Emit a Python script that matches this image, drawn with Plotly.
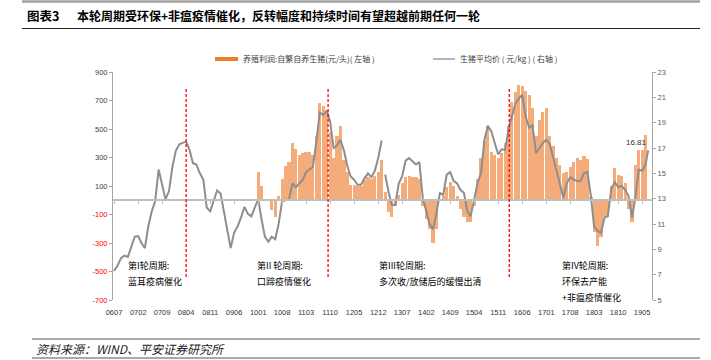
import pandas as pd
import plotly.graph_objects as go

# ---------------- data ----------------
start_month = "2006-07-01"

# 生猪平均价 (元/kg), monthly from 2006-07 to 2019-06
price = [
    7.3, 7.7, 8.3, 8.5, 8.4, 9.2, 10.0, 10.05, 9.5, 9.1,
    10.8, 12.0, 12.8, 15.3, 14.0, 12.95, 13.6, 15.5, 16.8, 17.3,
    17.4, 17.5, 16.85, 15.8, 15.7, 15.0, 14.5, 12.3, 12.0, 12.8,
    13.65, 13.4, 12.1, 10.8, 9.1, 10.3, 10.8, 11.5, 12.35, 11.8,
    11.6, 12.3, 12.95, 11.3, 10.0, 9.6, 10.0, 9.8, 11.0, 12.8,
    12.9, 12.95, 14.2, 13.9, 14.2, 14.5, 15.1, 15.3, 15.5, 17.5,
    19.8, 19.6, 19.95, 19.1, 17.0, 17.2, 17.65, 16.8, 15.6, 14.75,
    14.5, 14.1, 14.1, 14.6, 15.0, 14.7, 15.2, 16.2, 17.6, 14.9,
    13.6, 12.5, 12.5, 14.2, 14.75, 16.0, 16.2, 15.95, 15.7, 15.9,
    13.0, 12.0, 11.0, 10.6, 11.8, 13.45, 13.3, 14.9, 15.1, 14.4,
    14.2, 13.7, 13.45, 12.0, 11.6, 12.9, 14.2, 15.0, 17.6, 18.75,
    18.3, 17.4, 16.5, 16.9, 16.85, 18.5, 19.5, 20.5, 20.9, 21.2,
    19.5, 18.6, 18.8, 16.6, 17.0, 17.4, 17.65, 17.3, 16.3, 15.3,
    14.2, 13.05, 14.2, 14.7, 14.5, 14.4, 14.4, 15.0, 15.1, 13.2,
    10.8, 10.45, 10.3, 11.5, 11.6, 13.8, 14.3, 13.9, 14.0, 13.7,
    13.2, 11.5, 13.0, 15.3, 15.2, 15.7,
]
price_gap_date = "2013-01-16"      # missing observation (line break)
last_date = "2019-06-24"
last_price = 16.81

# 养殖利润: 自繁自养生猪 (元/头), monthly from 2010-01 to 2019-06
profit_start = "2010-01-01"
profit = [
    200, 100, 0, 0, -70, -120, 30, 150,
    240, 270, 400, 360, 320, 330, 340, 340, 320, 450,
    680, 660, 620, 480, 300, 450, 520, 280, 200, 110,
    110, 100, 100, 140, 160, 150, 170, 200, 285, 60,
    -80, -120, -40, 40, 120, 160, 170, 165, 160, 150,
    -40, -130, -200, -297, -200, 10, 30, 90, 130, 100,
    30, -60, -120, -150, -155, -40, 150, 300, 414, 520,
    340, 320, 300, 330, 400, 520, 690, 760, 810, 800,
    765, 740, 650, 450, 560, 620, 650, 450, 380, 300,
    250, 190, 200, 230, 270, 300, 280, 310, 290, 20,
    -220, -324, -260, -120, -110, 100, 226, 180, 170, 120,
    -60, -150, 250, 350, 350, 460,
]

x_tick_labels = ["0607", "0702", "0709", "0804", "0811", "0906", "1001", "1008",
                 "1103", "1110", "1205", "1212", "1307", "1402", "1409", "1504",
                 "1511", "1606", "1701", "1708", "1803", "1810", "1905"]
left_ticks = [-700, -500, -300, -100, 100, 300, 500, 700, 900]
right_ticks = [5, 7, 9, 11, 13, 15, 17, 19, 21, 23]

cycle_marks = ["2008-04-01", "2011-09-13", "2016-02-07"]
cycle_texts = [
    ["第I轮周期:", "蓝耳疫病催化"],
    ["第II 轮周期:", "口蹄疫情催化"],
    ["第III轮周期:", "多次收/放储后的缓慢出清"],
    ["第IV轮周期:", "环保去产能", "+非瘟疫情催化"],
]

title_tag = "图表3"
title_text = "本轮周期受环保+非瘟疫情催化，反转幅度和持续时间有望超越前期任何一轮"
source_text = "资料来源：WIND、平安证券研究所"
legend_bar = "养殖利润:自繁自养生猪(元/头)( 左轴 )"
legend_line = "生猪平均价 ( 元/kg ) ( 右轴 )"

# ---------------- build ----------------
months = pd.date_range(start_month, periods=len(price), freq="MS")
profit_dates = pd.date_range(profit_start, periods=len(profit), freq="MS")

px_dates = list(months) + [pd.Timestamp(price_gap_date), pd.Timestamp(last_date)]
px_vals = list(price) + [None, last_price]
order = sorted(range(len(px_dates)), key=lambda i: px_dates[i])
px_dates = [px_dates[i] for i in order]
px_vals = [px_vals[i] for i in order]

tick_dates = [pd.to_datetime("20" + s, format="%Y%m") for s in x_tick_labels]
x_range = ["2006-06-22", "2019-07-28"]

CJK = "Noto Sans CJK SC"
LAT = "Liberation Sans, Arial, sans-serif"

fig = go.Figure()
fig.add_trace(go.Bar(
    x=profit_dates, y=profit, name=legend_bar,
    marker=dict(color="#F4AC7A", line=dict(width=0)),
    showlegend=False, hoverinfo="skip",
))
fig.add_trace(go.Scatter(
    x=[tick_dates[0], tick_dates[-1]], y=[0, 0], xaxis="x2", yaxis="y",
    mode="lines", line=dict(width=0), opacity=0, showlegend=False, hoverinfo="skip",
))
fig.add_trace(go.Scatter(
    x=px_dates, y=px_vals, yaxis="y2", mode="lines", name=legend_line,
    line=dict(color="#8E8E8E", width=2), connectgaps=False,
    showlegend=False, hoverinfo="skip",
))

# plot-area geometry (pixels) used for paper-coordinate decorations
L, R, T, B = 113, 652, 72, 300
W, H = R - L, B - T
def pxx(x):
    return (x - L) / W
def pxy(y):
    return 1 - (y - T) / H

left_text = [f'<span style="color:#FF0000">{v}</span>' if v < 0 else str(v) for v in left_ticks]

fig.update_layout(
    width=711, height=360,
    margin=dict(l=L, r=711 - R, t=T, b=360 - B),
    paper_bgcolor="white", plot_bgcolor="white",
    bargap=0.0,
    font=dict(family=LAT, color="#404040"),
    xaxis=dict(type="date", range=x_range, tickvals=tick_dates, ticktext=x_tick_labels,
               showline=False, ticks="", showgrid=False, zeroline=False,
               ticklabelstandoff=6,
               tickfont=dict(size=7.5, color="#333333", family=LAT)),
    xaxis2=dict(type="date", range=x_range, overlaying="x", anchor="free",
                position=700 / 1600, tickvals=tick_dates, showticklabels=False,
                showline=True, linecolor="#BFBFBF", linewidth=1.5,
                ticks="outside", ticklen=3, tickcolor="#BFBFBF",
                showgrid=False, zeroline=False),
    yaxis=dict(range=[-700, 900], tickvals=left_ticks, ticktext=left_text,
               showline=True, linecolor="#A6A6A6", linewidth=1,
               ticks="outside", ticklen=3, tickcolor="#A6A6A6",
               showgrid=False, zeroline=False,
               tickfont=dict(size=7.5, color="#404040", family=LAT)),
    yaxis2=dict(range=[5, 23], tickvals=right_ticks, overlaying="y", side="right",
                showline=True, linecolor="#A6A6A6", linewidth=1,
                ticks="outside", ticklen=3, tickcolor="#A6A6A6",
                showgrid=False, zeroline=False,
                tickfont=dict(size=7.5, color="#595959", family=LAT)),
)

shapes = []
for d in cycle_marks:
    shapes.append(dict(type="line", xref="x", yref="paper", x0=d, x1=d,
                       y0=pxy(277), y1=pxy(89),
                       line=dict(color="#FF0000", width=1.3, dash="3px,2px"), layer="above"))
# legend swatches
shapes.append(dict(type="rect", xref="paper", yref="paper", x0=pxx(215), x1=pxx(238),
                   y0=pxy(61), y1=pxy(57), fillcolor="#ED7D31", line=dict(width=0)))
shapes.append(dict(type="line", xref="paper", yref="paper", x0=pxx(433), x1=pxx(455),
                   y0=pxy(59), y1=pxy(59), line=dict(color="#8E8E8E", width=1.3)))
# header / footer rules
shapes.append(dict(type="line", xref="paper", yref="paper", x0=pxx(22), x1=pxx(700),
                   y0=pxy(1.5), y1=pxy(1.5), line=dict(color="#A0A0A0", width=2.5)))
shapes.append(dict(type="line", xref="paper", yref="paper", x0=pxx(22), x1=pxx(700),
                   y0=pxy(28.5), y1=pxy(28.5), line=dict(color="#222222", width=1)))
shapes.append(dict(type="line", xref="paper", yref="paper", x0=pxx(32), x1=pxx(700),
                   y0=pxy(339), y1=pxy(339), line=dict(color="#555555", width=1)))
shapes.append(dict(type="line", xref="paper", yref="paper", x0=pxx(32), x1=pxx(700),
                   y0=pxy(358), y1=pxy(358), line=dict(color="#555555", width=1)))
fig.update_layout(shapes=shapes)

ann = []
ann.append(dict(xref="paper", yref="paper", x=pxx(25), y=pxy(15), xanchor="left", yanchor="middle",
                text=f"<b>{title_tag}</b>", showarrow=False,
                font=dict(family=CJK, size=12.5, color="#000000")))
ann.append(dict(xref="paper", yref="paper", x=pxx(75), y=pxy(15), xanchor="left", yanchor="middle",
                text=f"<b>{title_text}</b>", showarrow=False,
                font=dict(family=CJK, size=12, color="#000000")))
ann.append(dict(xref="paper", yref="paper", x=pxx(34), y=pxy(348.5), xanchor="left", yanchor="middle",
                text=f"<i>{source_text}</i>", showarrow=False,
                font=dict(family=CJK, size=12, color="#222222")))
ann.append(dict(xref="paper", yref="paper", x=pxx(241), y=pxy(59), xanchor="left", yanchor="middle",
                text=legend_bar, showarrow=False, font=dict(family=CJK, size=8, color="#404040")))
ann.append(dict(xref="paper", yref="paper", x=pxx(458), y=pxy(59), xanchor="left", yanchor="middle",
                text=legend_line, showarrow=False, font=dict(family=CJK, size=8, color="#404040")))
cycle_x = [126, 255, 377, 560]
for cx, lines in zip(cycle_x, cycle_texts):
    for k, t in enumerate(lines):
        ann.append(dict(xref="paper", yref="paper", x=pxx(cx), y=pxy(265 + 16 * k),
                        xanchor="left", yanchor="middle", text=t, showarrow=False,
                        font=dict(family=CJK, size=9, color="#000000")))
ann.append(dict(xref="x", yref="y2", x=last_date, y=last_price, xanchor="right", yanchor="bottom",
                xshift=1, yshift=1, text=f"{last_price:.2f}", showarrow=False,
                font=dict(family=LAT, size=8, color="#333333")))
fig.update_layout(annotations=ann)

fig.write_html("out.html", config={"displayModeBar": False},
               post_script="document.body.style.margin='0';document.body.style.overflow='hidden';")
